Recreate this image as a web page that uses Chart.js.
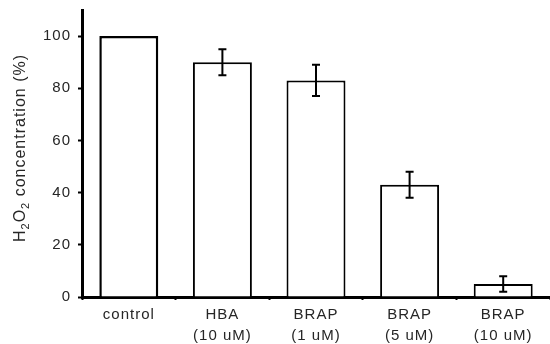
<!DOCTYPE html>
<html>
<head>
<meta charset="utf-8">
<script src="https://cdn.jsdelivr.net/npm/chart.js@4"></script>
<style>
  html, body { margin: 0; padding: 0; background: #fff; }
  #wrap { width: 550px; height: 344px; position: relative; }
</style>
</head>
<body>
<div id="wrap"><canvas id="c"></canvas></div>
<script>
const categories = [['control'], ['HBA', '(10 uM)'], ['BRAP', '(1 uM)'], ['BRAP', '(5 uM)'], ['BRAP', '(10 uM)']];
const values = [100, 90, 83, 43, 5];
const errors = [0, 5, 6, 5, 3];
const yTicks = [0, 20, 40, 60, 80, 100];
// y-axis title pieces: [text, isSubscript]
const yTitleParts = [['H', false], ['2', true], ['O', false], ['2', true], [' concentration (%)', false]];

const FONT = "'Liberation Sans', Arial, sans-serif";
const TEXT = '#262626';

const spacingPlugin = {
  id: 'spacing',
  beforeLayout(chart) { chart.ctx.letterSpacing = '1px'; },
  beforeDraw(chart) { chart.ctx.letterSpacing = '1px'; }
};

const yTitlePlugin = {
  id: 'yTitle',
  afterDraw(chart) {
    const ctx = chart.ctx;
    ctx.save();
    ctx.letterSpacing = '1px';
    ctx.fillStyle = TEXT;
    ctx.textBaseline = 'alphabetic';
    ctx.textAlign = 'left';
    const big = '16px ' + FONT, small = '11px ' + FONT;
    let total = 0;
    yTitleParts.forEach(([t, sub]) => { ctx.font = sub ? small : big; total += ctx.measureText(t).width; });
    const cy = 148;
    ctx.translate(25, cy);
    ctx.rotate(-Math.PI / 2);
    let x = -total / 2;
    yTitleParts.forEach(([t, sub]) => {
      ctx.font = sub ? small : big;
      ctx.fillText(t, x, sub ? 4 : 0);
      x += ctx.measureText(t).width;
    });
    ctx.restore();
  }
};

const errorBars = {
  id: 'errorBars',
  afterDatasetsDraw(chart) {
    const ctx = chart.ctx;
    const meta = chart.getDatasetMeta(0);
    const y = chart.scales.y;
    ctx.save();
    ctx.strokeStyle = '#000';
    ctx.lineWidth = 2;
    meta.data.forEach((bar, i) => {
      const e = errors[i];
      if (!e) return;
      const x = bar.x;
      const t = y.getPixelForValue(values[i] + e);
      const b = y.getPixelForValue(values[i] - e);
      ctx.beginPath();
      ctx.moveTo(x, t); ctx.lineTo(x, b);
      ctx.moveTo(x - 4, t); ctx.lineTo(x + 4, t);
      ctx.moveTo(x - 4, b); ctx.lineTo(x + 4, b);
      ctx.stroke();
    });
    ctx.restore();
  }
};

new Chart(document.getElementById('c'), {
  type: 'bar',
  data: {
    labels: categories,
    datasets: [{
      data: values,
      backgroundColor: '#fff',
      borderColor: '#000',
      borderWidth: [2.5, 2, 2, 2, 2],
      borderSkipped: 'bottom',
      categoryPercentage: 1,
      barPercentage: 0.63
    }]
  },
  options: {
    responsive: true,
    maintainAspectRatio: false,
    animation: false,
    layout: { padding: { top: 10, right: 0, left: 0, bottom: 0 } },
    plugins: { legend: { display: false }, tooltip: { enabled: false } },
    scales: {
      x: {
        offset: true,
        grid: { display: true, drawOnChartArea: false, offset: true, tickLength: 3, tickWidth: 2, tickColor: '#000' },
        border: { display: true, color: '#000', width: 3 },
        ticks: { color: TEXT, font: { family: FONT, size: 15, lineHeight: 1.4 }, padding: 4, maxRotation: 0, autoSkip: false },
        afterFit(s) { s.height = 47; s.paddingLeft = 0; s.paddingRight = 0; }
      },
      y: {
        min: 0,
        max: 110,
        afterBuildTicks(s) { s.ticks = yTicks.map(v => ({ value: v })); },
        grid: { display: true, drawOnChartArea: false, tickLength: 4, tickWidth: 2, tickColor: '#000' },
        border: { display: true, color: '#000', width: 3 },
        ticks: { color: TEXT, font: { family: FONT, size: 15 }, padding: 7 },
        title: { display: false },
        afterFit(s) { s.width = 82; s.paddingTop = 0; s.paddingBottom = 0; }
      }
    }
  },
  plugins: [spacingPlugin, errorBars, yTitlePlugin]
});
</script>
</body>
</html>
